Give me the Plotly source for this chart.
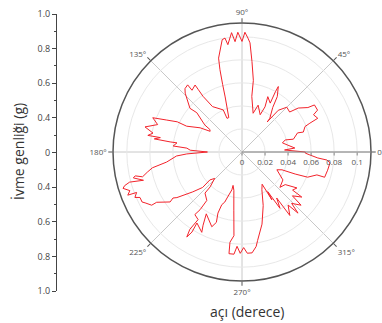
import plotly.graph_objects as go

# Polar outline (angle in degrees, amplitude)
theta_deg = [0, 2.7, 4.3, 8.7, 12.7, 15.6, 14, 19, 18, 22, 23, 24, 27.5, 29, 33, 34, 38, 40, 45, 49, 50,
             50.5, 55.4, 57.5, 61, 61, 60, 65, 63, 64, 71, 74,
             80, 81, 83.7, 85.8, 87, 88.6, 90, 92, 93.6, 95, 97.5, 98.5, 100, 104, 105, 106, 107, 111,
             114, 114, 123, 125, 125, 125, 129, 129, 132, 134, 140, 139, 144, 145,
             147, 150, 155, 155, 157, 159, 162, 165.5, 168, 170, 170, 171.5, 172, 172, 175, 176, 178, 180,
             182, 183.5, 187.6, 190, 192, 194, 192.6, 193.4, 196, 195, 196, 197, 199, 200.7, 201, 203, 204,
             206.6, 207.7, 210.5, 210.5, 214.8, 213.7, 215, 219, 222, 221, 224,
             227.6, 228, 234, 234, 233, 237, 236, 237, 238, 237.6, 243.4, 242, 240, 248, 250, 248.5, 249,
             251, 252, 255, 255,
             258, 262, 264.5, 262.4, 262.7, 265.5, 267, 269, 271, 273, 275.7, 278.5, 280, 285.5, 291.6,
             297.8, 302,
             302, 303, 304, 307, 307, 311, 312.5, 314, 318, 319, 323, 323, 326.8, 323, 317, 325.7, 333,
             336, 337.5, 339, 343, 343, 348, 353, 354.6, 355.5, 357.5, 359, 360]
amplitude = [0.055, 0.037, 0.046, 0.040, 0.036, 0.039, 0.046, 0.051, 0.056, 0.059, 0.064, 0.072, 0.070,
             0.075, 0.075, 0.069, 0.062, 0.054, 0.055, 0.048, 0.034,
             0.038, 0.047, 0.057, 0.065, 0.060, 0.049, 0.053, 0.044, 0.036, 0.043, 0.035,
             0.049, 0.063, 0.079, 0.095, 0.099, 0.104, 0.096, 0.104, 0.096, 0.104, 0.094, 0.100, 0.099,
             0.084, 0.074, 0.061, 0.050, 0.032,
             0.032, 0.040, 0.047, 0.059, 0.066, 0.071, 0.069, 0.075, 0.074, 0.071, 0.059, 0.052, 0.040,
             0.034,
             0.033, 0.042, 0.053, 0.062, 0.071, 0.083, 0.077, 0.087, 0.079, 0.083, 0.072, 0.077, 0.063,
             0.057, 0.060, 0.048, 0.045, 0.030,
             0.048, 0.057, 0.066, 0.079, 0.084, 0.089, 0.095, 0.097, 0.089, 0.101, 0.106, 0.108, 0.103,
             0.106, 0.098, 0.101, 0.097,
             0.097, 0.095, 0.091, 0.086, 0.076, 0.072, 0.069, 0.055, 0.046, 0.037, 0.033,
             0.041, 0.048, 0.052, 0.062, 0.068, 0.070, 0.081, 0.088, 0.082, 0.073, 0.078, 0.072, 0.062,
             0.070, 0.065, 0.057, 0.049, 0.046, 0.042, 0.034, 0.030,
             0.034, 0.051, 0.073, 0.079, 0.089, 0.089, 0.082, 0.088, 0.083, 0.088, 0.088, 0.083, 0.078,
             0.065, 0.050, 0.037, 0.033,
             0.049, 0.041, 0.059, 0.050, 0.069, 0.061, 0.072, 0.062, 0.069, 0.058, 0.065, 0.055, 0.057,
             0.047, 0.045, 0.043, 0.034, 0.038, 0.050, 0.061, 0.068, 0.075, 0.076, 0.077, 0.074, 0.066,
             0.059, 0.055, 0.055]

radial_ticks = [0, 0.02, 0.04, 0.06, 0.08, 0.1]
radial_ticktext = ["0", "0.02", "0.04", "0.06", "0.08", "0.1"]
angle_ticks = [0, 45, 90, 135, 180, 225, 270, 315]
angle_ticktext = ["0°", "45°", "90°", "135°", "180°", "225°", "270°", "315°"]

left_tick_pos = [4, 3, 2, 1, 0, -1, -2, -3, -4]
left_tick_text = ["1.0", "0.8", "0.6", "0.4", "0", "0.4", "0.6", "0.8", "1.0"]

W, H = 382, 323

fig = go.Figure()
fig.add_trace(go.Scatterpolar(r=amplitude, theta=theta_deg, mode="lines",
                              line=dict(color="#f2232b", width=1), showlegend=False,
                              hoverinfo="skip"))
# invisible trace to anchor the left cartesian axis
fig.add_trace(go.Scatter(x=[0], y=[0], mode="markers", marker=dict(opacity=0),
                         showlegend=False, hoverinfo="skip"))

cx, cy, R = 242, 152, 129
fig.update_layout(
    width=W, height=H,
    margin=dict(l=0, r=0, t=0, b=0, autoexpand=False),
    paper_bgcolor="white", plot_bgcolor="white",
    font=dict(family="Open Sans, DejaVu Sans, sans-serif", color="#555"),
    polar=dict(
        domain=dict(x=[(cx - R) / W, (cx + R) / W], y=[(H - cy - R) / H, (H - cy + R) / H]),
        bgcolor="white",
        radialaxis=dict(range=[0, 0.112], tickvals=radial_ticks, ticktext=radial_ticktext,
                        angle=0, side="clockwise", showline=True, linecolor="#888",
                        linewidth=1, gridcolor="#e8e8e8", ticks="outside", ticklen=3,
                        tickcolor="#888", tickfont=dict(size=8, color="#555")),
        angularaxis=dict(tickvals=angle_ticks, ticktext=angle_ticktext, direction="counterclockwise",
                         rotation=0, showline=True, linecolor="#555", linewidth=1.5,
                         gridcolor="#c8c8c8", ticks="outside", ticklen=4, tickcolor="#555",
                         tickfont=dict(size=8, color="#555")),
    ),
    xaxis=dict(domain=[57 / W, 60 / W], visible=False, range=[-1, 1], automargin=False),
    yaxis=dict(domain=[(H - 291) / H, (H - 14) / H], range=[-4, 4], tickvals=left_tick_pos,
               ticktext=left_tick_text, showline=True, linecolor="#444", linewidth=1,
               ticks="outside", ticklen=4, tickcolor="#444", showgrid=False, zeroline=False,
               automargin=False, tickfont=dict(size=9, color="#444"),
               minor=dict(ticks="outside", ticklen=2.5, tickcolor="#444", dtick=0.5)),
    annotations=[
        dict(text="İvme genliği (g)", x=18 / W, y=(H - 152) / H, xref="paper", yref="paper",
             textangle=-90, showarrow=False, font=dict(size=14, color="#333"),
             xanchor="center", yanchor="middle"),
        dict(text="açı (derece)", x=247 / W, y=(H - 311) / H, xref="paper", yref="paper",
             showarrow=False, font=dict(size=14, color="#333"),
             xanchor="center", yanchor="middle"),
    ],
)

fig.write_html("out.html")
